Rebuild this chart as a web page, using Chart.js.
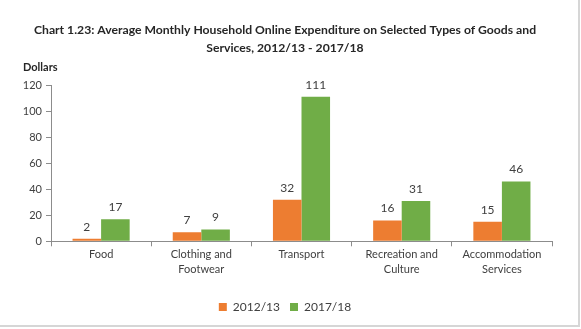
<!DOCTYPE html>
<html>
<head>
<meta charset="utf-8">
<script src="https://cdn.jsdelivr.net/npm/chart.js@4.4.0/dist/chart.umd.min.js"></script>
<style>
    html, body { margin: 0; padding: 0; background: #fff; }
    .wrap { position: relative; width: 581px; height: 329px; }
    .frame {
        position: absolute; left: 0; top: 0; width: 578px; height: 325px;
        border-right: 2px solid #d6d6d6; border-bottom: 2px solid #d6d6d6;
        pointer-events: none;
    }
</style>
</head>
<body>
<div class="wrap">
    <canvas id="chartSpending" width="581" height="329"></canvas>
    <div class="frame"></div>
</div>
<script>
const categories = [
    'Food',
    ['Clothing and', 'Footwear'],
    'Transport',
    ['Recreation and', 'Culture'],
    ['Accommodation', 'Services']
];
const seriesNames = ['2012/13', '2017/18'];
const spend2012 = [2, 7, 32, 16, 15];
const spend2017 = [17, 9, 111, 31, 46];
const yTicks = [0, 20, 40, 60, 80, 100, 120];

const textColor = '#404040';
const axisColor = '#8c8c8c';
const fontFamily = 'Lato, "Open Sans", sans-serif';

// writes each bar's value just above it
const valueLabels = {
    id: 'valueLabels',
    afterDatasetsDraw(chart) {
        let ctx = chart.ctx;
        ctx.save();
        ctx.font = '12px ' + fontFamily;
        ctx.fillStyle = textColor;
        ctx.textAlign = 'center';
        ctx.textBaseline = 'middle';
        chart.data.datasets.forEach((ds, i) => {
            chart.getDatasetMeta(i).data.forEach((bar, j) => {
                ctx.fillText(ds.data[j], bar.x, bar.y - 12);
            });
        });
        ctx.restore();
    }
};

// "Dollars" caption above the value axis
const axisCaption = {
    id: 'axisCaption',
    afterDraw(chart) {
        let ctx = chart.ctx;
        let area = chart.chartArea;
        ctx.save();
        ctx.font = 'bold 11px ' + fontFamily;
        ctx.fillStyle = '#262626';
        ctx.textAlign = 'left';
        ctx.textBaseline = 'middle';
        ctx.fillText('Dollars', 23, area.top - 18);
        ctx.restore();
    }
};

const chartSpending = new Chart(document.getElementById('chartSpending'), {
    type: 'bar',
    data: {
        labels: categories,
        datasets: [{
            label: seriesNames[0],
            data: spend2012,
            backgroundColor: '#ED7D31',
            barPercentage: 1,
            categoryPercentage: 0.57,
        }, {
            label: seriesNames[1],
            data: spend2017,
            backgroundColor: '#70AD47',
            barPercentage: 1,
            categoryPercentage: 0.57,
        }]
    },
    options: {
        responsive: false,
        animation: false,
        layout: {
            padding: { left: 18, right: 29, top: 0, bottom: 6 }
        },
        scales: {
            x: {
                afterFit(scale) {
                    scale.height += 13;
                },
                grid: {
                    drawOnChartArea: false,
                    color: axisColor,
                    tickLength: 5,
                },
                border: { color: axisColor },
                ticks: {
                    color: textColor,
                    font: { family: fontFamily, size: 11, lineHeight: 1.35 },
                    padding: 1,
                    maxRotation: 0,
                    autoSkip: false,
                },
            },
            y: {
                min: 0,
                max: 120,
                afterBuildTicks(scale) {
                    scale.ticks = yTicks.map(v => ({ value: v }));
                },
                afterFit(scale) {
                    scale.width = 33;
                },
                grid: {
                    drawOnChartArea: false,
                    color: axisColor,
                    tickLength: 5,
                },
                border: { color: axisColor },
                ticks: {
                    color: textColor,
                    font: { family: fontFamily, size: 11 },
                    padding: 4,
                },
            }
        },
        plugins: {
            title: {
                display: true,
                text: [
                    'Chart 1.23: Average Monthly Household Online Expenditure on Selected Types of Goods and',
                    'Services, 2012/13 - 2017/18'
                ],
                color: '#262626',
                font: { family: fontFamily, size: 12.2, weight: 'bold', lineHeight: 1.48 },
                padding: { top: 21, bottom: 28 },
            },
            legend: {
                position: 'bottom',
                labels: {
                    color: textColor,
                    font: { family: fontFamily, size: 12 },
                    boxWidth: 8,
                    boxHeight: 8,
                    padding: 10,
                },
            },
            tooltip: { enabled: false },
        }
    },
    plugins: [valueLabels, axisCaption],
});
</script>
</body>
</html>
